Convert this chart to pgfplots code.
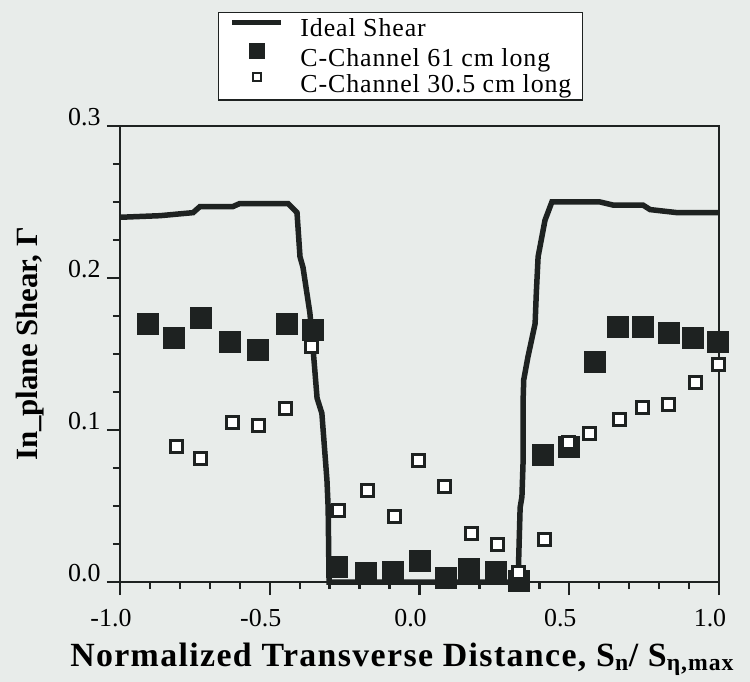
\documentclass[border=0pt]{standalone}
\usepackage{fontspec}
\setmainfont{Liberation Serif}
\usepackage{pgfplots}
\pgfplotsset{compat=1.18}
\definecolor{bgcol}{RGB}{232,236,234}
\definecolor{inkc}{RGB}{30,34,33}
\pgfplotsset{
  lineleg/.style={legend image code/.code={\draw[##1] (0bp,6bp) -- (49bp,6bp);}},
  fillleg/.style={legend image code/.code={\draw[##1, mark size=7.2bp] plot coordinates {(24.5bp,7bp)};}},
  openleg/.style={legend image code/.code={\draw[##1, mark size=4bp, line width=2.4bp] plot coordinates {(24.5bp,7bp)};}},
}
\begin{document}
\begin{tikzpicture}
\fill[bgcol] (-120bp,-100bp) rectangle (630bp,582bp);
\begin{axis}[
  at={(0,0)}, anchor=south west,
  width=599bp, height=456bp, scale only axis,
  xmin=-1, xmax=1, ymin=0, ymax=0.3,
  xtick={-1,-0.5,0,0.5,1}, minor x tick num=4,
  ytick={0,0.1,0.2,0.3}, minor y tick num=3,
  tick align=outside, tick pos=left,
  major tick length=13bp, minor tick length=7bp,
  axis line style={line width=2.6bp, draw=inkc},
  tick style={line width=2.4bp, draw=inkc},
  xticklabels={-1.0,-0.5,0.0,0.5,1.0},
  yticklabels={0.0,0.1,0.2,0.3},
  xticklabel style={font=\fontsize{26}{30}\selectfont, xshift=-9bp, yshift=-11bp},
  yticklabel style={font=\fontsize{26}{30}\selectfont, xshift=-3bp, yshift=9bp},
  xlabel={\bfseries\addfontfeature{LetterSpace=4} Normalized Transverse Distance, S\textsubscript{n}/ S\textsubscript{η,max}},
  ylabel={\bfseries In\_plane Shear, Γ},
  xlabel style={font=\fontsize{34}{36}\selectfont, at={(axis description cs:0.471,-0.186)}, anchor=base},
  ylabel style={font=\fontsize{31}{34}\selectfont, at={(axis description cs:-0.138,0.522)}, anchor=base},
  legend style={at={(axis description cs:0.1636,1.25)}, anchor=north west, draw=inkc, line width=1.3bp,
     font=\fontsize{26}{27}\selectfont\addfontfeature{LetterSpace=3.5}, inner xsep=11bp, inner ysep=6bp,
     nodes={inner sep=0.3bp}, row sep=5bp, column sep=16bp},
  legend cell align=left,
  clip=false,
]
\addplot[color=inkc, line width=5.5bp, lineleg] coordinates {
(-1.0,0.240) (-0.993,0.240) (-0.866,0.241) (-0.756,0.243) (-0.733,0.247) (-0.623,0.247)
(-0.6,0.249) (-0.439,0.249) (-0.409,0.243) (-0.399,0.214) (-0.389,0.207) (-0.366,0.177)
(-0.356,0.155) (-0.342,0.121) (-0.326,0.111) (-0.309,0.067) (-0.305,0.049) (-0.302,0.0)
(0.329,0.0) (0.336,0.049) (0.342,0.056) (0.346,0.08) (0.346,0.12) (0.348,0.133)
(0.362,0.148) (0.386,0.170) (0.390,0.190) (0.396,0.214) (0.419,0.238) (0.442,0.250)
(0.603,0.250) (0.646,0.248) (0.746,0.248) (0.770,0.245) (0.860,0.243) (0.993,0.243) (1.0,0.243)
};
\addlegendentry{Ideal Shear}
\addplot[only marks, mark=square*, mark size=10.5bp, color=inkc, fillleg] coordinates {
(-0.907,0.170) (-0.820,0.161) (-0.730,0.174) (-0.633,0.158) (-0.539,0.153) (-0.442,0.170)
(-0.356,0.166) (-0.275,0.010) (-0.179,0.006) (-0.088,0.007) (0.002,0.014) (0.088,0.003)
(0.165,0.009) (0.255,0.007) (0.332,0.001) (0.412,0.084) (0.499,0.089) (0.586,0.145)
(0.663,0.168) (0.746,0.168) (0.833,0.164) (0.913,0.161) (0.997,0.158)
};
\addlegendentry{C-Channel 61 cm long}
\addplot[only marks, mark=square*, mark size=6bp, color=inkc, fill=white, line width=3bp, openleg] coordinates {
(-0.813,0.089) (-0.730,0.081) (-0.626,0.105) (-0.539,0.103) (-0.446,0.114) (-0.362,0.155)
(-0.269,0.047) (-0.175,0.060) (-0.082,0.043) (-0.005,0.080) (0.082,0.063) (0.172,0.032)
(0.259,0.025) (0.332,0.006) (0.416,0.028) (0.499,0.092) (0.569,0.098) (0.669,0.107)
(0.743,0.115) (0.830,0.117) (0.920,0.131) (0.997,0.143)
};
\addlegendentry{C-Channel 30.5 cm long}
\end{axis}
\end{tikzpicture}
\end{document}
